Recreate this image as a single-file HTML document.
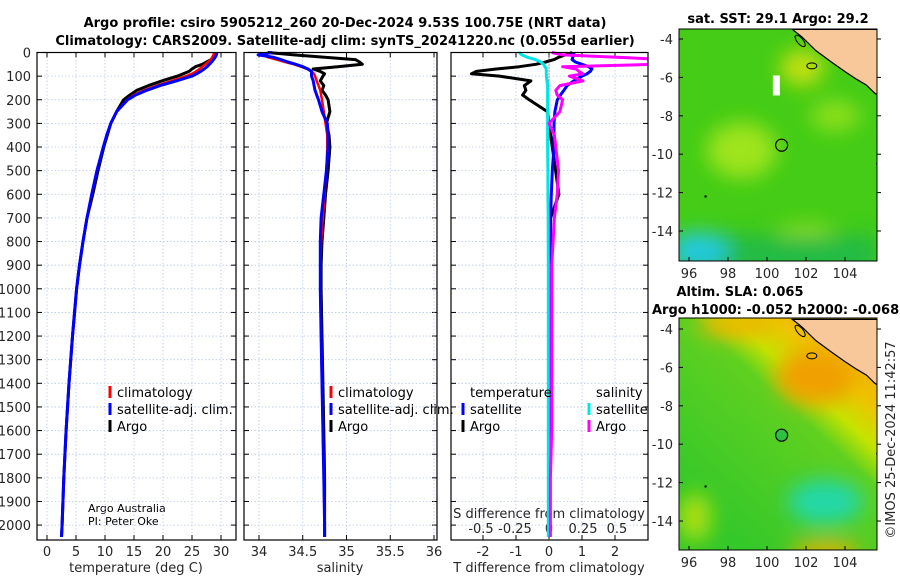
<!DOCTYPE html>
<html><head><meta charset="utf-8">
<style>
html,body{margin:0;padding:0;background:#fff;}
svg{display:block;font-family:"DejaVu Sans","Liberation Sans",sans-serif;}
.tk{font-size:13px;fill:#262626;}
.ttl{font-size:13px;font-weight:bold;fill:#000;}
.lg{font-size:13px;fill:#000;}
</style></head>
<body>
<svg id="chart" width="900" height="580" viewBox="0 0 900 580">
<text class="ttl" x="345" y="27" text-anchor="middle">Argo profile: csiro 5905212_260 20-Dec-2024 9.53S 100.75E (NRT data)</text>
<text class="ttl" x="345" y="45" text-anchor="middle">Climatology: CARS2009. Satellite-adj clim: synTS_20241220.nc (0.055d earlier)</text>
<text class="ttl" x="778" y="23" text-anchor="middle">sat. SST: 29.1 Argo: 29.2</text>
<text class="ttl" x="740" y="296" text-anchor="middle">Altim. SLA: 0.065</text>
<text class="ttl" x="652" y="314">Argo h1000: -0.052 h2000: -0.068</text>
<text x="0" y="0" font-size="13" fill="#262626" transform="translate(895,440) rotate(-90)" text-anchor="middle">©IMOS 25-Dec-2024 11:42:57</text>
<text x="88" y="512" font-size="11" fill="#000">Argo Australia</text>
<text x="88" y="525" font-size="11" fill="#000">PI: Peter Oke</text>
</svg>
<script>
const depths=[0,10,20,30,40,50,60,70,80,90,100,120,140,160,180,200,250,300,350,400,500,600,700,800,900,1000,1200,1400,1600,1800,2000,2050];
const tempClim=[28.8,28.7,28.5,28.2,27.8,27.3,26.8,26.3,25.7,25.0,24.0,21.5,19.0,16.8,15.0,13.8,12.0,11.0,10.3,9.7,8.6,7.7,6.9,6.2,5.6,5.1,4.4,3.8,3.3,2.9,2.6,2.5];
const tempSat=[29.3,29.2,29.0,28.7,28.4,28.0,27.6,27.1,26.5,25.8,25.0,22.3,19.5,17.2,15.3,13.9,12.0,11.0,10.3,9.7,8.6,7.7,6.9,6.2,5.6,5.1,4.4,3.8,3.3,2.9,2.6,2.5];
const tempArgo=[29.1,29.0,28.8,28.3,27.5,26.8,25.6,25.0,24.5,23.5,22.5,19.8,17.5,15.5,14.3,13.2,12.0,11.0,10.4,9.8,8.8,7.9,6.9,6.2,5.6,5.1,4.4,3.8,3.3,2.9,2.6,2.5];
const salClim=[34.05,34.05,34.1,34.2,34.3,34.4,34.48,34.55,34.6,34.63,34.64,34.66,34.68,34.7,34.71,34.72,34.74,34.76,34.78,34.78,34.77,34.75,34.73,34.71,34.7,34.7,34.71,34.72,34.73,34.74,34.75,34.75];
const salSat=[34.15,33.99,34.16,34.25,34.33,34.42,34.5,34.56,34.6,34.6,34.6,34.62,34.63,34.64,34.66,34.68,34.72,34.78,34.79,34.79,34.77,34.74,34.71,34.7,34.7,34.7,34.71,34.72,34.73,34.74,34.75,34.75];
const salArgo=[34.1,34.4,34.75,35.1,35.15,35.18,34.9,34.62,34.7,34.75,34.73,34.7,34.74,34.72,34.76,34.79,34.81,34.77,34.8,34.81,34.79,34.76,34.74,34.72,34.71,34.71,34.72,34.73,34.74,34.75,34.75,34.75];
const tdSat=[0.75,0.75,0.72,0.7,0.8,1.0,1.2,1.3,1.25,1.15,1.0,0.75,0.55,0.45,0.35,0.25,0.18,0.15,0.15,0.15,0.1,0.07,0.05,0.05,0.04,0.04,0.03,0.03,0.03,0.03,0.03,0.03];
const tdArgo=[0.7,0.5,0.3,0.15,-0.1,-0.4,-0.9,-1.6,-2.2,-2.35,-1.5,-0.55,-0.75,-0.7,-0.8,-0.6,-0.05,0.0,0.05,0.1,0.2,0.3,0.05,0.0,0.0,0.0,0.0,0.0,0.0,0.0,0.0,0.0];
const sdSat=[-0.22,-0.2,-0.16,-0.1,-0.06,-0.04,-0.03,-0.02,-0.02,-0.02,-0.02,-0.015,-0.01,-0.01,-0.01,-0.01,-0.01,-0.01,-0.01,-0.01,-0.008,-0.008,-0.006,-0.006,-0.005,-0.005,-0.005,-0.005,-0.005,-0.005,-0.005,-0.005];
const sdArgo=[0.02,0.1,0.5,0.85,0.85,0.8,0.1,0.2,0.22,0.25,0.15,0.25,0.08,0.05,0.06,0.1,0.08,0.0,0.04,0.05,0.07,0.06,0.04,0.03,0.02,0.02,0.02,0.02,0.02,0.01,0.01,0.01];
const depthTicks=[0,100,200,300,400,500,600,700,800,900,1000,1100,1200,1300,1400,1500,1600,1700,1800,1900,2000];
const tempTicks=[0,5,10,15,20,25,30];
const salTicks=[34,34.5,35,35.5,36];
const tdTicks=[-2,-1,0,1,2];
const sdTicks=[-0.5,-0.25,0,0.25,0.5];
const sdTickLabels=["-0.5","-0.25","0","0.25","0.5"];
const lonTicks=[96,98,100,102,104];
const latTicks=[-4,-6,-8,-10,-12,-14];

const NS="http://www.w3.org/2000/svg";
const svg=document.getElementById('chart');
function el(tag,attrs,parent){const e=document.createElementNS(NS,tag);for(const k in attrs)e.setAttribute(k,attrs[k]);(parent||svg).appendChild(e);return e;}
const TOP=52.5,BOT=540;
const yD=d=>TOP+d*0.2363;
const xT=t=>47+5.8*t;
const xS=s=>259+87.5*(s-34);
const xTD=v=>549+33*v;
const xSD=v=>549+136*v;
const panels=[{l:37,r:236,n:'temperature'},{l:244,r:437,n:'salinity'},{l:451,r:648,n:'difference'}];

const defs=el('defs',{});
panels.forEach((p,i)=>{const c=el('clipPath',{id:'clip'+i},defs);el('rect',{x:p.l,y:TOP-2,width:p.r-p.l,height:BOT-TOP+2},c);});

function vgrid(x,p){const g=el('line',{x1:x,x2:x,y1:TOP,y2:BOT,stroke:'#b8c8e8','stroke-width':0.8,'stroke-dasharray':'1.5,2'});
}
panels.forEach((p,i)=>{
  depthTicks.forEach(d=>{const y=yD(d);
    const g=el('line',{x1:p.l,x2:p.r,y1:y,y2:y,stroke:'#b8c8e8','stroke-width':0.8,'stroke-dasharray':'1.5,2'});
    
    el('line',{x1:p.l,x2:p.l+5,y1:y,y2:y,stroke:'#000'});el('line',{x1:p.r,x2:p.r-5,y1:y,y2:y,stroke:'#000'});
  });
});
depthTicks.forEach(d=>{const t=el('text',{x:31,y:yD(d)+5,'text-anchor':'end',class:'tk'});t.textContent=d;
  });

function xticks(ticks,fx,p,labels,ly){ticks.forEach((v,i)=>{const x=fx(v);vgrid(x,p);
  el('line',{x1:x,x2:x,y1:BOT,y2:BOT-5,stroke:'#000'});el('line',{x1:x,x2:x,y1:TOP,y2:TOP+5,stroke:'#000'});
  const t=el('text',{x:x,y:ly,'text-anchor':'middle',class:'tk'});t.textContent=labels?labels[i]:v;
  });}
xticks(tempTicks,xT,panels[0],null,556);
xticks(salTicks,xS,panels[1],null,556);
xticks(tdTicks,xTD,panels[2],null,556);
sdTicks.forEach((v,i)=>{const x=xSD(v);
  const t=el('text',{x:x,y:533,'text-anchor':'middle',class:'tk'});t.textContent=sdTickLabels[i];
  });
[['temperature (deg C)',136],['salinity',340],['T difference from climatology',549]].forEach(([s,x])=>{
  const t=el('text',{x:x,y:572,'text-anchor':'middle',class:'tk'});t.textContent=s;
  });
const st=el('text',{x:549,y:518,'text-anchor':'middle',class:'tk'});st.textContent='S difference from climatology';


function line(vals,fx,color,w,ci,name){
  const d=vals.map((v,i)=>(i?'L':'M')+fx(v).toFixed(1)+','+yD(depths[i]).toFixed(1)).join(' ');
  const p=el('path',{d:d,fill:'none',stroke:color,'stroke-width':w,'stroke-linejoin':'round','clip-path':'url(#clip'+ci+')'});
  }
line(tempArgo,xT,'#000',3,0,'temp-argo-line');
line(tempClim,xT,'#f00',2.5,0,'temp-climatology-line');
line(tempSat,xT,'#00f',3,0,'temp-satellite-line');
line(salArgo,xS,'#000',3,1,'sal-argo-line');
line(salClim,xS,'#f00',2.5,1,'sal-climatology-line');
line(salSat,xS,'#00f',3,1,'sal-satellite-line');
el('line',{x1:549,x2:549,y1:TOP,y2:BOT,stroke:'#555','stroke-dasharray':'1,2'});
line(tdArgo,xTD,'#000',3,2,'tdiff-argo-line');
line(tdSat,xTD,'#00f',3,2,'tdiff-satellite-line');
line(sdSat,xSD,'#00e5e5',3,2,'sdiff-satellite-line');
line(sdArgo,xSD,'#f0f',3,2,'sdiff-argo-line');

panels.forEach(p=>{const r=el('rect',{x:p.l,y:TOP,width:p.r-p.l,height:BOT-TOP,fill:'none',stroke:'#000','stroke-width':1.2});
  });

function legend(x,y,color,label){el('line',{x1:x,x2:x,y1:y-11,y2:y+1,stroke:color,'stroke-width':3});
  const t=el('text',{x:x+7,y:y,class:'lg'});t.textContent=label;
  }
legend(110,397,'#f00','climatology');legend(110,414,'#00f','satellite-adj. clim.');legend(110,431,'#000','Argo');
legend(331,397,'#f00','climatology');legend(331,414,'#00f','satellite-adj. clim.');legend(331,431,'#000','Argo');
const th=el('text',{x:470,y:397,class:'lg'});th.textContent='temperature';
const sh=el('text',{x:596,y:397,class:'lg'});sh.textContent='salinity';
legend(463,414,'#00f','satellite');legend(463,431,'#000','Argo');
legend(589,414,'#00e5e5','satellite');legend(589,431,'#f0f','Argo');

// maps
const mX=lon=>689+(lon-96)*19.5;
const maps=[{top:29,bot:261,y0:39,name:'sst-map'},{top:318,bot:550,y0:329,name:'sla-map'}];
const f=el('filter',{id:'blur',x:'-50%',y:'-50%',width:'200%',height:'200%'},defs);el('feGaussianBlur',{stdDeviation:10},f);
const g2=el('linearGradient',{id:'slag',x1:'0.9',y1:'0',x2:'0.2',y2:'0.9'},defs);
[['0','#f2a400'],['0.22','#eec400'],['0.34','#c4e400'],['0.45','#60d020'],['1','#34c82a']].forEach(([o,c])=>el('stop',{offset:o,'stop-color':c},g2));
maps.forEach((m,mi)=>{
  const mY=lat=>m.y0+(-4-lat)*19.2;
  const c=el('clipPath',{id:'mclip'+mi},defs);el('rect',{x:679,y:m.top,width:198,height:m.bot-m.top},c);
  const g=el('g',{'clip-path':'url(#mclip'+mi+')'});
  
  if(mi===0){
    el('rect',{x:679,y:m.top,width:198,height:m.bot-m.top,fill:'#44cc16'},g);
    const b=el('g',{filter:'url(#blur)'},g);
    el('ellipse',{cx:mX(98.7),cy:mY(-9.8),rx:35,ry:28,fill:'#9fe41a'},b);
    el('ellipse',{cx:mX(101.8),cy:mY(-5.5),rx:22,ry:18,fill:'#c8e010'},b);
    el('ellipse',{cx:mX(103.5),cy:mY(-8),rx:25,ry:15,fill:'#8fe01a'},b);
    el('ellipse',{cx:mX(102),cy:mY(-14.3),rx:30,ry:12,fill:'#9fe41a'},b);
    el('rect',{x:679,y:mY(-14.2),width:198,height:40,fill:'#22bb44'},b);
    el('ellipse',{cx:mX(96.5),cy:mY(-15),rx:30,ry:18,fill:'#22c8e0'},b);
    el('rect',{x:mX(100.3),y:mY(-5.9),width:7,height:20,fill:'#fff'},g);
  } else {
    el('rect',{x:679,y:m.top,width:198,height:m.bot-m.top,fill:'url(#slag)'},g);
    const b=el('g',{filter:'url(#blur)'},g);
    el('ellipse',{cx:mX(102.5),cy:mY(-6.5),rx:40,ry:28,fill:'#f0a000'},b);
    el('ellipse',{cx:mX(98.5),cy:mY(-3.8),rx:40,ry:12,fill:'#f0b400'},b);
    el('ellipse',{cx:mX(103),cy:mY(-13),rx:38,ry:22,fill:'#22d8a8'},b);
    el('ellipse',{cx:mX(103),cy:mY(-15.6),rx:35,ry:10,fill:'#f2b000'},b);
    el('ellipse',{cx:mX(96.3),cy:mY(-13.8),rx:16,ry:24,fill:'#b0e010'},b);
  }
  const land=[[101.3,-3.5],[101.8,-3.9],[102.5,-4.6],[103.3,-5.2],[104,-5.7],[104.6,-6.1],[105.1,-6.4],[105.5,-6.8],[105.9,-7.1],[105.9,-3.5]];
  const lp=el('polygon',{points:land.map(q=>mX(q[0])+','+mY(q[1])).join(' '),fill:'#f9c89a',stroke:'#000','stroke-width':1.2},g);
  
  el('ellipse',{cx:mX(102.3),cy:mY(-5.4),rx:5,ry:3,fill:'none',stroke:'#000'},g);
  el('ellipse',{cx:mX(101.7),cy:mY(-4.1),rx:3,ry:7,fill:'none',stroke:'#000',transform:'rotate(-40 '+mX(101.7)+' '+mY(-4.1)+')'},g);
  el('circle',{cx:mX(105.7),cy:mY(-10.5),r:2,fill:'#000'},g);
  el('circle',{cx:mX(96.85),cy:mY(-12.2),r:1.2,fill:'#000'},g);
  const ac=el('circle',{cx:mX(100.75),cy:mY(-9.53),r:6,fill:mi?'#2ec040':'none',stroke:'#000','stroke-width':1.2});
  
  const fr=el('rect',{x:679,y:m.top,width:198,height:m.bot-m.top,fill:'none',stroke:'#000','stroke-width':1});
  
  lonTicks.forEach(lon=>{const x=mX(lon);el('line',{x1:x,x2:x,y1:m.bot,y2:m.bot-4,stroke:'#000'});
    const t=el('text',{x:x,y:m.bot+17,'text-anchor':'middle',class:'tk'});t.textContent=lon;
    });
  latTicks.forEach(lat=>{const y=mY(lat);el('line',{x1:679,x2:683,y1:y,y2:y,stroke:'#000'});el('line',{x1:877,x2:881,y1:y,y2:y,stroke:'#000'});
    const t=el('text',{x:673,y:y+5,'text-anchor':'end',class:'tk'});t.textContent=lat;
    });
});
</script>
</body></html>
